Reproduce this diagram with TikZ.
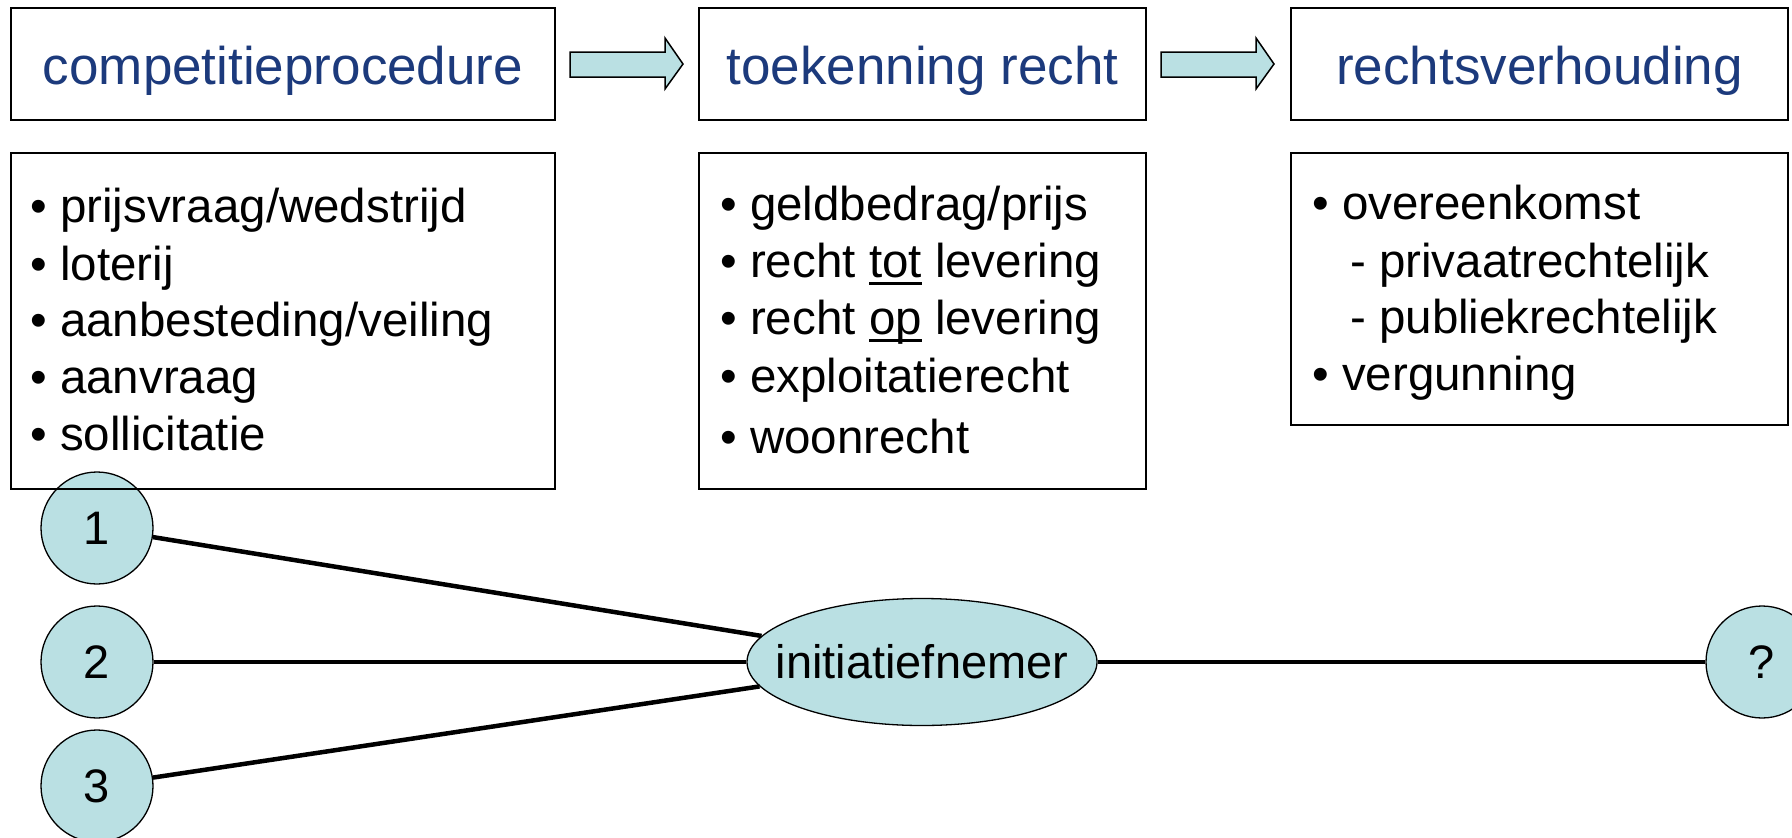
\documentclass[tikz,border=0pt]{standalone}
\usepackage{fontspec}
\setmainfont{Liberation Sans}
\usetikzlibrary{shapes.geometric}
\definecolor{ttl}{RGB}{28,58,124}
\definecolor{cyanfill}{RGB}{186,224,227}
\newsavebox\ulbox
\newcommand\myul[1]{\sbox\ulbox{#1}\rlap{\rule[-0.175em]{\wd\ulbox}{0.06em}}\usebox\ulbox}
\newcommand\bul{\makebox[30pt][l]{•}}
\newcommand\subdash{\makebox[29pt][l]{-}}
\begin{document}
\begin{tikzpicture}[x=1pt,y=-1pt,
  titlebox/.style={draw, line width=2pt, inner sep=0pt, text height=76pt, text depth=36pt,
    minimum height=112pt, font=\fontsize{53}{60}\selectfont, text=ttl, anchor=north west},
  listbox/.style={draw, line width=2pt, inner sep=0pt, anchor=north west},
  listtext/.style={anchor=base west, inner sep=0pt, font=\fontsize{47.5}{57}\selectfont},
  disc/.style={ellipse, draw, line width=1.3pt, fill=cyanfill, minimum width=112pt,
    minimum height=112pt, inner sep=0pt, font=\fontsize{47}{50}\selectfont},
  link/.style={line width=4.5pt},
  blockarrow/.style={draw, line width=1.5pt, fill=cyanfill, line join=miter}
]
\useasboundingbox (0,0) rectangle (1792,838);
\clip (0,0) rectangle (1792,838);

% circles and ellipses
\node[disc] (c1) at (97,528) {1};
\node[disc] (c2) at (97,662) {2};
\node[disc] (c3) at (97,786) {3};
\node[disc, minimum width=350pt, minimum height=127pt] (ini) at (922,662) {\makebox[0pt][c]{initiatiefnemer}};
\node[disc] (q) at (1762,662) {?};

% title boxes
\node[titlebox, minimum width=544pt] (t1) at (10,7) {competitieprocedure};
\node[titlebox, minimum width=447pt] (t2) at (698,7) {toekenning recht};
\node[titlebox, minimum width=497pt] (t3) at (1290,7) {rechtsverhouding};

% block arrows
\draw[blockarrow] (570,52) -- (665,52) -- (665,38) -- (683,64) -- (665,89) -- (665,77) -- (570,77) -- cycle;
\draw[blockarrow] (1161,52) -- (1256,52) -- (1256,38) -- (1274,64) -- (1256,89) -- (1256,77) -- (1161,77) -- cycle;

% list boxes
\node[listbox, minimum width=544pt, minimum height=336pt] (b1) at (10,152) {};
\node[listbox, minimum width=447pt, minimum height=336pt] (b2) at (698,152) {};
\node[listbox, minimum width=497pt, minimum height=272pt] (b3) at (1290,152) {};

% list 1
\node[listtext] (l11) at (30,222) {\bul prijsvraag/wedstrijd};
\node[listtext] (l12) at (30,280) {\bul loterij};
\node[listtext] (l13) at (30,336) {\bul aanbesteding/veiling};
\node[listtext] (l14) at (30,393) {\bul aanvraag};
\node[listtext] (l15) at (30,450) {\bul sollicitatie};

% list 2
\node[listtext] (l21) at (720,220) {\bul geldbedrag/prijs};
\node[listtext] (l22) at (720,277) {\bul recht \myul{tot} levering};
\node[listtext] (l23) at (720,334) {\bul recht \myul{op} levering};
\node[listtext] (l24) at (720,392) {\bul exploitatierecht};
\node[listtext] (l25) at (720,453) {\bul woonrecht};

% list 3
\node[listtext] (l31) at (1312,219) {\bul overeenkomst};
\node[listtext] (l32) at (1350,277) {\subdash privaatrechtelijk};
\node[listtext] (l33) at (1350,333) {\subdash publiekrechtelijk};
\node[listtext] (l34) at (1312,390) {\bul vergunning};

% connectors
\draw[link] (c1) -- (ini);
\draw[link] (c2) -- (ini);
\draw[link] (c3) -- (ini);
\draw[link] (ini) -- (q);
\end{tikzpicture}
\end{document}
